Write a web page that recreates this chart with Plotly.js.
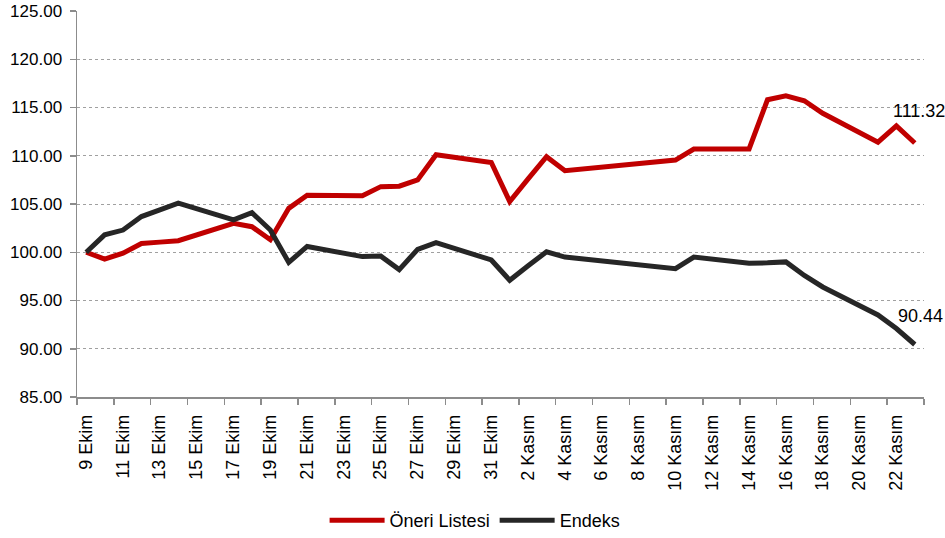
<!DOCTYPE html>
<html>
<head>
<meta charset="utf-8">
<script src="https://cdn.plot.ly/plotly-3.0.1.min.js"></script>
<style>html,body{margin:0;padding:0;background:#fff;}#chart{width:945px;height:538px;}</style>
</head>
<body>
<div id="chart"></div>
<script>
// Trading dates (2011)
const dates = ['2011-10-09','2011-10-10','2011-10-11','2011-10-12','2011-10-13','2011-10-14',
  '2011-10-17','2011-10-18','2011-10-19','2011-10-20','2011-10-21',
  '2011-10-24','2011-10-25','2011-10-26','2011-10-27','2011-10-28',
  '2011-10-31','2011-11-01','2011-11-02','2011-11-03','2011-11-04',
  '2011-11-10','2011-11-11','2011-11-14','2011-11-15','2011-11-16','2011-11-17','2011-11-18',
  '2011-11-21','2011-11-22','2011-11-23'];
const oneriListesi = [100.00, 99.30, 99.90, 100.90, 101.05, 101.20,
  103.00, 102.65, 101.30, 104.55, 105.90,
  105.85, 106.80, 106.85, 107.50, 110.10,
  109.30, 105.25, 107.60, 109.90, 108.45,
  109.55, 110.70, 110.70, 115.80, 116.20, 115.70, 114.40,
  111.40, 113.10, 111.32];
const endeks = [100.00, 101.80, 102.30, 103.70, 104.40, 105.10,
  103.35, 104.10, 102.30, 98.95, 100.60,
  99.55, 99.60, 98.20, 100.30, 101.00,
  99.20, 97.10, 98.60, 100.05, 99.50,
  98.30, 99.50, 98.85, 98.90, 99.00, 97.60, 96.40,
  93.50, 92.10, 90.44];
const labelDates = ['2011-10-09','2011-10-11','2011-10-13','2011-10-15','2011-10-17','2011-10-19',
  '2011-10-21','2011-10-23','2011-10-25','2011-10-27','2011-10-29','2011-10-31',
  '2011-11-02','2011-11-04','2011-11-06','2011-11-08','2011-11-10','2011-11-12',
  '2011-11-14','2011-11-16','2011-11-18','2011-11-20','2011-11-22','2011-11-24'];
const tickLabels = ['9 Ekim','11 Ekim','13 Ekim','15 Ekim','17 Ekim','19 Ekim',
  '21 Ekim','23 Ekim','25 Ekim','27 Ekim','29 Ekim','31 Ekim',
  '2 Kasım','4 Kasım','6 Kasım','8 Kasım','10 Kasım','12 Kasım',
  '14 Kasım','16 Kasım','18 Kasım','20 Kasım','22 Kasım',''];
const yTicks = [85,90,95,100,105,110,115,120,125];

const HALF_DAY = 12*3600*1000;
function shiftDate(s, ms){
  const d = new Date(s + 'T00:00:00Z').getTime() + ms;
  return new Date(d).toISOString().replace('T',' ').slice(0,19);
}
const tickvals = labelDates.map(d => shiftDate(d, -HALF_DAY));
const xRange = [shiftDate(dates[0], -HALF_DAY), shiftDate(dates[dates.length-1], HALF_DAY)];

const FONT = '"Liberation Sans Narrow", "Arial Narrow", "Liberation Sans", Arial, sans-serif';

const traces = [
  {x: dates, y: oneriListesi, name: 'Öneri Listesi', type: 'scatter', mode: 'lines',
   line: {color: '#C00000', width: 5, shape: 'linear'}},
  {x: dates, y: endeks, name: 'Endeks', type: 'scatter', mode: 'lines',
   line: {color: '#262626', width: 5, shape: 'linear'}}
];

const last = dates.length - 1;
const layout = {
  width: 945, height: 538,
  margin: {l: 77, r: 21, t: 11, b: 141, autoexpand: false},
  paper_bgcolor: '#fff', plot_bgcolor: '#fff',
  font: {family: FONT, size: 18, color: '#000'},
  showlegend: true,
  legend: {orientation: 'h', x: 0.47, xanchor: 'center', y: -0.32, yanchor: 'middle',
    font: {family: FONT, size: 18, color: '#000'}, traceorder: 'normal', itemwidth: 55},
  xaxis: {type: 'date', range: xRange, tickmode: 'array', tickvals: tickvals, ticktext: tickLabels,
    tickangle: -90, ticks: 'outside', ticklen: 6, tickcolor: '#8c8c8c', tickwidth: 1.5,
    ticklabelshift: 9, ticklabelstandoff: 3, showline: true, linecolor: '#8c8c8c', linewidth: 1.5,
    showgrid: false, zeroline: false, fixedrange: true, automargin: false,
    tickfont: {family: FONT, size: 18, color: '#000'}},
  yaxis: {range: [85, 125], tickmode: 'array', tickvals: yTicks, tickformat: '.2f',
    ticks: 'outside', ticklen: 6, tickcolor: '#8c8c8c', tickwidth: 1.5,
    showline: true, linecolor: '#8c8c8c', linewidth: 1.5,
    showgrid: true, gridcolor: '#a0a0a0', gridwidth: 1, griddash: 'dot',
    zeroline: false, fixedrange: true, ticklabelstandoff: 4, automargin: false,
    tickfont: {family: FONT, size: 17, color: '#000'}},
  annotations: [
    {x: dates[last], y: oneriListesi[last], text: oneriListesi[last].toFixed(2), showarrow: false,
     xref: 'x', yref: 'y', xshift: 4, yshift: 32, font: {family: FONT, size: 18, color: '#000'}},
    {x: dates[last], y: endeks[last], text: endeks[last].toFixed(2), showarrow: false,
     xref: 'x', yref: 'y', xshift: 6, yshift: 29, font: {family: FONT, size: 18, color: '#000'}}
  ]
};

Plotly.newPlot('chart', traces, layout, {displayModeBar: false, staticPlot: true});
</script>
</body>
</html>
